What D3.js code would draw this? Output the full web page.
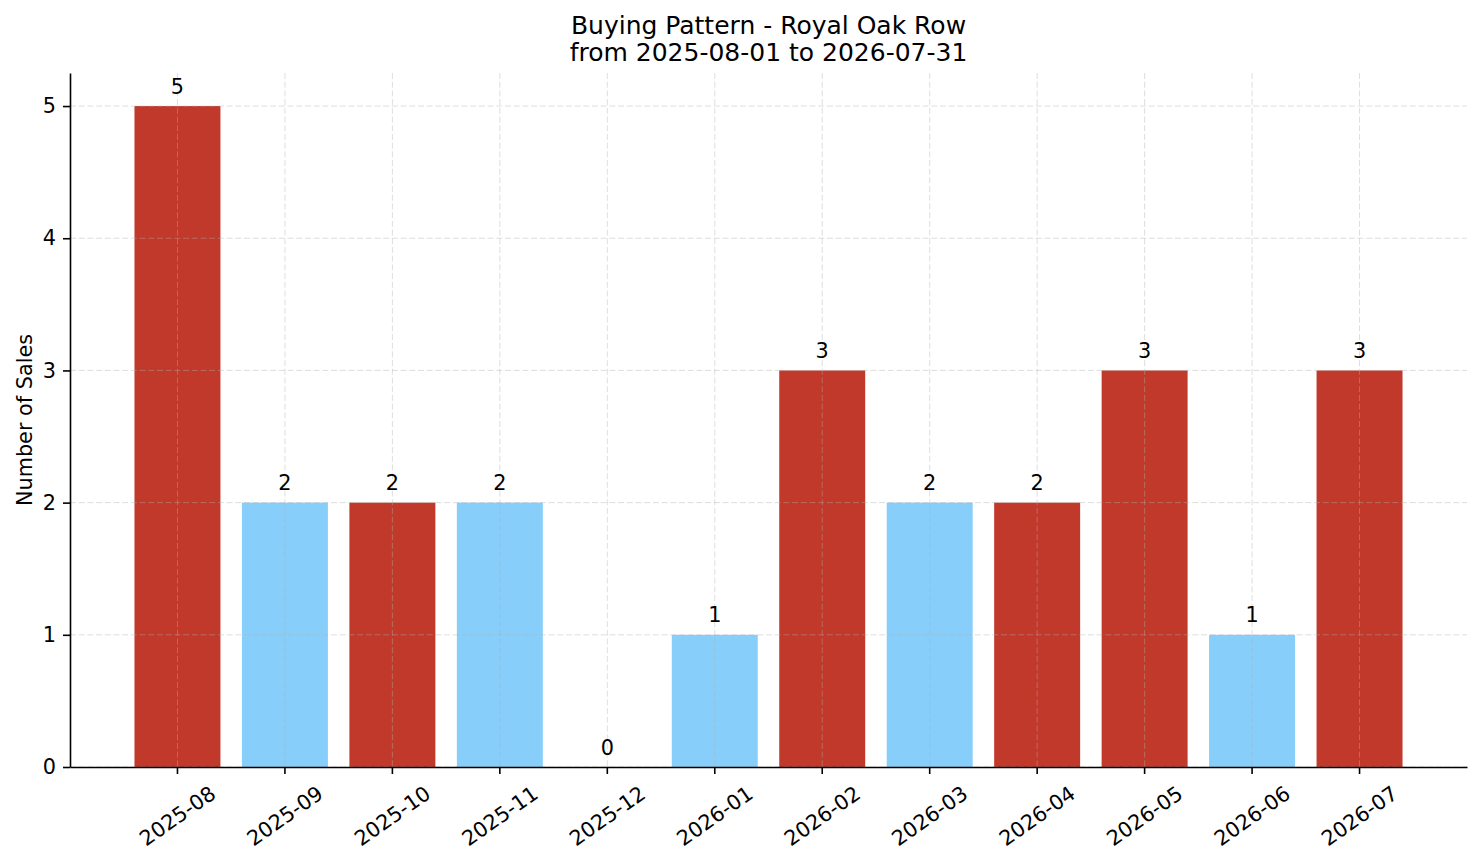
<!DOCTYPE html>
<html>
<head>
<meta charset="utf-8">
<script src="https://cdn.jsdelivr.net/npm/d3@7"></script>
<style>
    body { margin: 0; background: #fff; }
    text { font-family: "DejaVu Sans", sans-serif; fill: #000; }
</style>
</head>
<body>
<div id="chart"></div>
<script>
        // Data
        const months = ["2025-08", "2025-09", "2025-10", "2025-11", "2025-12", "2026-01",
                        "2026-02", "2026-03", "2026-04", "2026-05", "2026-06", "2026-07"];
        const sales = [5, 2, 2, 2, 0, 1, 3, 2, 2, 3, 1, 3];
        const highlighted = [true, false, true, false, false, false, true, false, true, true, false, true];
        const yTicks = [0, 1, 2, 3, 4, 5];

        const titleLines = ["Buying Pattern - Royal Oak Row", "from 2025-08-01 to 2026-07-31"];

        // Dimensions
        const width = 1481;
        const height = 863;
        const margin = { top: 73, right: 14, bottom: 96, left: 70 };
        const fontSize = 20.8;

        const svg = d3.select("#chart")
            .append("svg")
            .attr("width", width)
            .attr("height", height);

        // Scales
        const xScale = d3.scaleBand()
            .domain(months)
            .range([margin.left, width - margin.right])
            .paddingInner(0.2)
            .paddingOuter(0.6);

        const yScale = d3.scaleLinear()
            .domain([0, 5.25])
            .range([height - margin.bottom, margin.top]);

        const color = d3.scaleOrdinal()
            .domain([true, false])
            .range(["#c0392b", "#87cefa"]);

        const data = months.map((m, i) => ({ month: m, value: sales[i], hot: highlighted[i] }));

        // Bars
        svg.append("g")
            .selectAll("rect")
            .data(data)
            .join("rect")
            .attr("x", d => xScale(d.month))
            .attr("y", d => yScale(d.value))
            .attr("width", xScale.bandwidth())
            .attr("height", d => yScale(0) - yScale(d.value))
            .attr("fill", d => color(d.hot));

        // Grid (drawn over the bars)
        const grid = svg.append("g")
            .attr("stroke", "#b0b0b0")
            .attr("stroke-opacity", 0.42)
            .attr("stroke-width", 1)
            .attr("stroke-dasharray", "6,2.7");

        grid.selectAll(".hgrid")
            .data(yTicks)
            .join("line")
            .attr("x1", margin.left)
            .attr("x2", width - margin.right)
            .attr("y1", d => yScale(d))
            .attr("y2", d => yScale(d));

        grid.selectAll(".vgrid")
            .data(months)
            .join("line")
            .attr("x1", d => xScale(d) + xScale.bandwidth() / 2)
            .attr("x2", d => xScale(d) + xScale.bandwidth() / 2)
            .attr("y1", margin.top)
            .attr("y2", height - margin.bottom);

        // Value labels
        svg.append("g")
            .selectAll("text")
            .data(data)
            .join("text")
            .attr("x", d => xScale(d.month) + xScale.bandwidth() / 2)
            .attr("y", d => yScale(d.value) - 12.5)
            .attr("text-anchor", "middle")
            .style("font-size", fontSize + "px")
            .text(d => d.value);

        // Axes
        const xAxis = svg.append("g")
            .attr("transform", `translate(0, ${height - margin.bottom})`)
            .call(d3.axisBottom(xScale).tickSize(7).tickPadding(7).tickSizeOuter(0));

        const angle = 35;
        const rad = angle * Math.PI / 180;
        xAxis.selectAll(".tick text")
            .attr("font-family", null)
            .style("font-size", fontSize + "px")
            .attr("text-anchor", "middle")
            .each(function () {
                const w = this.getComputedTextLength();
                const h = fontSize * 1.164;
                const cy = 14 + (w * Math.sin(rad) + h * Math.cos(rad)) / 2;
                d3.select(this)
                    .attr("x", 0)
                    .attr("y", cy)
                    .attr("dy", "0.35em")
                    .attr("transform", `rotate(${-angle}, 0, ${cy})`);
            });

        const yAxis = svg.append("g")
            .attr("transform", `translate(${margin.left}, 0)`)
            .call(d3.axisLeft(yScale).tickValues(yTicks).tickFormat(d3.format("d"))
                .tickSize(7).tickPadding(7).tickSizeOuter(0));

        yAxis.selectAll(".tick text")
            .attr("font-family", null)
            .style("font-size", fontSize + "px");

        svg.selectAll(".domain, .tick line")
            .attr("stroke", "#000")
            .attr("stroke-width", 1.6);

        // Title and axis label
        const title = svg.append("text")
            .attr("text-anchor", "middle")
            .style("font-size", "25px");
        titleLines.forEach((line, i) => {
            title.append("tspan")
                .attr("x", (margin.left + width - margin.right) / 2)
                .attr("y", 33.5 + i * 27.5)
                .text(line);
        });

        svg.append("text")
            .attr("transform", "rotate(-90)")
            .attr("x", -(margin.top + height - margin.bottom) / 2)
            .attr("y", 32)
            .attr("text-anchor", "middle")
            .style("font-size", fontSize + "px")
            .text("Number of Sales");
</script>
</body>
</html>
